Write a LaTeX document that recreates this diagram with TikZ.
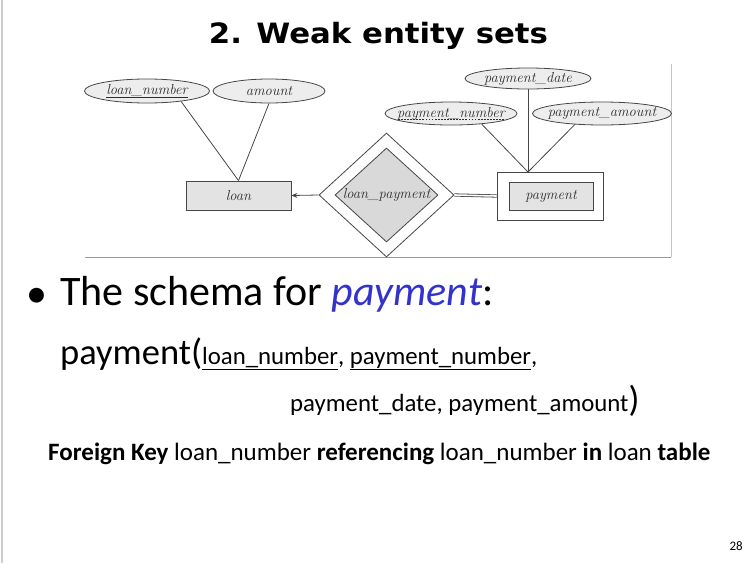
\documentclass[tikz,border=0pt]{standalone}
\usepackage{fontspec}
\setmainfont{Carlito}
\newfontfamily\titlefont{DejaVu Sans}
\newfontfamily\erfont{Latin Modern Roman}
\usetikzlibrary{shapes.geometric,arrows.meta}
\definecolor{slideblue}{RGB}{51,51,204}
\definecolor{erline}{RGB}{70,70,70}
\definecolor{ertext}{RGB}{45,45,45}
\newsavebox\partkeybox
\newcommand\partkeyul[1]{\sbox\partkeybox{#1}\rlap{\raisebox{-2.5pt}{\hbox to \wd\partkeybox{\xleaders\hbox to 3pt{\hss\rule{1.8pt}{0.4pt}\hss}\hfill}}}\usebox\partkeybox}
\begin{document}
\begin{tikzpicture}[x=1pt,y=-1pt,
	attr/.style={ellipse,draw=erline,line width=0.8pt,fill=gray!14,inner xsep=-10pt,inner ysep=0pt,text=ertext,font=\erfont\itshape\fontsize{14.5}{14.5}\selectfont},
	ent/.style={rectangle,draw=erline,line width=0.8pt,fill=gray!22,inner sep=0pt,text=ertext,font=\erfont\itshape\fontsize{14.5}{14.5}\selectfont},
	rel/.style={diamond,draw=erline,line width=0.8pt,inner sep=0pt,text=ertext,font=\erfont\itshape\fontsize{14.5}{14.5}\selectfont},
	conn/.style={draw=erline,line width=0.8pt},
	slide/.style={inner sep=0pt,anchor=base west}]
	\useasboundingbox (0,0) rectangle (750,563);
	\draw[gray!40,line width=1.5pt] (2,0) -- (2,563);
	\node[anchor=base,inner sep=0pt,font=\titlefont\bfseries\fontsize{28}{28}\selectfont] (title) at (378.5,43) {\scalebox{1.1}[1]{2. Weak entity sets}};
	\draw[gray!45] (671,64) -- (671,257);
	\draw[gray!80] (85,257) -- (671,257);
	\node[attr,minimum width=125pt,minimum height=24pt] (lnum) at (147,91) {\underline{loan\_number}};
	\node[attr,minimum width=112pt,minimum height=24pt] (amt) at (269,91) {amount};
	\node[attr,minimum width=126pt,minimum height=21pt] (pdate) at (528,78.5) {payment\_date};
	\node[attr,minimum width=132pt,minimum height=23pt] (pnum) at (451,113.5) {\partkeyul{payment\_number}};
	\node[attr,minimum width=139pt,minimum height=23pt] (pamt) at (602,113.5) {payment\_amount};
	\node[ent,minimum width=105pt,minimum height=29pt] (loan) at (238.5,195.5) {loan};
	\node[ent,fill=white,minimum width=106pt,minimum height=48pt] (payo) at (550,196) {};
	\node[ent,minimum width=84pt,minimum height=28pt] (pay) at (551,196) {payment};
	\node[rel,fill=white,minimum width=135pt,minimum height=124pt] (lpo) at (386.5,195) {};
	\node[rel,fill=gray!30,aspect=1.1,minimum width=103pt,minimum height=94pt] (lp) at (386.5,195) {loan\_payment};
	\coordinate (pj) at (528,172);
	\draw[conn] (lnum.-17) -- (loan.north);
	\draw[conn] (amt.south) -- (loan.north);
	\draw[conn] (pnum.-19) -- (pj);
	\draw[conn] (pamt.-158) -- (pj);
	\draw[conn] (pdate.south) -- (pj);
	\draw[conn,-{Stealth[length=6pt,width=5pt]}] (lpo.west) -- (loan.east);
	\draw[conn,double,double distance=1.6pt] (lpo.east) -- (payo.west);
	\node[anchor=base,inner sep=0pt,font=\fontsize{42}{42}\selectfont] (bul) at (37,307) {•};
	\node[slide,font=\fontsize{42}{42}\selectfont] (schema) at (60,305) {The schema for \textcolor{slideblue}{\itshape payment}:};
	\node[slide] (row1) at (60,364) {{\fontsize{36.5}{36}\selectfont payment(}{\fontsize{24.8}{25}\selectfont\underline{loan\_number}, \underline{payment\_number},}};
	\node[slide] (row2) at (290,411) {{\fontsize{24.8}{25}\selectfont payment\_date, payment\_amount}{\fontsize{36}{36}\selectfont)}};
	\node[slide,font=\fontsize{25}{25}\selectfont] (fk) at (48,460) {\textbf{Foreign Key} loan\_number \textbf{referencing} loan\_number \textbf{in} loan \textbf{table}};
	\node[inner sep=0pt,anchor=base east,font=\fontsize{13}{13}\selectfont] (pg) at (743,550) {28};
\end{tikzpicture}
\end{document}
